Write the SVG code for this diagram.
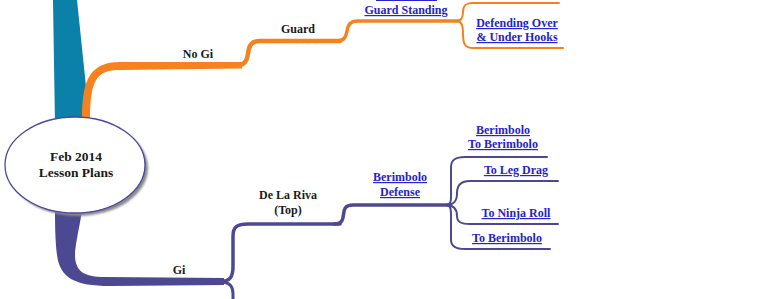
<svg xmlns="http://www.w3.org/2000/svg" width="768" height="299" viewBox="0 0 768 299">
<defs>
<filter id="blur" x="-10%" y="-10%" width="120%" height="120%"><feGaussianBlur stdDeviation="1.3"/></filter>
</defs>
<style>
text{font-family:"Liberation Serif","Times New Roman",serif;font-weight:bold;font-size:12px;text-anchor:middle;fill:#1a1a1a}
.lk{fill:#2424cc;text-decoration:underline}
.or{fill:none;stroke:#f5821f;stroke-linecap:round}
.pu{fill:none;stroke:#4d4892;stroke-linecap:round}
.ctr{font-size:13.5px}
</style>
<rect width="768" height="299" fill="#ffffff"/>
<g id="connectors">
  <path d="M53,0 L77,0 L90,125 L55,125 Z" fill="#0b80a8"/>
  <path d="M82,122 C82,86 86,62 120,62 L242,62 L242,68.5 L120,70 C96,70 90,80 90,122 Z" fill="#f5821f"/>
  <path class="or" stroke-width="4.5" d="M236,65.5 C256,65.5 240,41 260,41 L340,41"/>
  <path class="or" stroke-width="3.5" d="M336,41 C354,41 340,21 358,21 L458,21"/>
  <path class="or" stroke-width="2" d="M456,21 C462,21 463,17 463,12 C463,6 465,3 472,3 L559,3"/>
  <path class="or" stroke-width="2" d="M456,21 C462,21 463,26 463,34 C463,44 465,48 473,48 L563,48"/>
  <path d="M55,205 L83,205 C80,225 75,245 75,255 C75,272 85,277 105,277 L224,278 L224,285 L110,286 C75,286 60,278 57,255 C55,240 55,220 55,205 Z" fill="#4d4892"/>
  <path class="pu" stroke-width="3.5" d="M220,281.5 C231,281.5 233,276 233,266 L233,236 C233,227 237,224 248,224 L340,224"/>
  <path class="pu" stroke-width="3" d="M220,282 C231,282 233,287 233,295 L233,302"/>
  <path class="pu" stroke-width="3.5" d="M334,224 C351,224 336,205 353,205 L450,205"/>
  <path class="pu" stroke-width="2" d="M446,205 C452,205 451,199 451,188 L451,167 C451,160 455,157 465,157 L547,157"/>
  <path class="pu" stroke-width="2" d="M446,205 C455,205 457,200 457,193 C457,185 461,181 470,181 L558,181"/>
  <path class="pu" stroke-width="2" d="M446,205 C455,205 457,210 457,216 C457,222 461,224 470,224 L558,224"/>
  <path class="pu" stroke-width="2" d="M446,205 C452,205 451,212 451,224 L451,240 C451,246 455,249 465,249 L550,249"/>
  <line x1="376" y1="0.5" x2="437" y2="0.5" stroke="#2424cc" stroke-width="1"/>
</g>
<g id="center">
  <ellipse cx="78" cy="168" rx="70" ry="48" fill="#8a8a8a" filter="url(#blur)"/>
  <ellipse cx="75" cy="165" rx="70" ry="48" fill="#ffffff" stroke="#4a47a0" stroke-width="1.3"/>
  <text class="ctr" x="76" y="161">Feb 2014</text>
  <text class="ctr" x="76" y="177">Lesson Plans</text>
</g>
<g id="node-nogi"><text x="198" y="58">No Gi</text></g>
<g id="node-guard"><text x="298" y="33">Guard</text></g>
<g id="node-guard-standing"><text class="lk" x="406" y="14">Guard Standing</text></g>
<g id="node-defending"><text class="lk" x="517" y="27">Defending Over</text><text class="lk" x="517" y="41">&amp; Under Hooks</text></g>
<g id="node-gi"><text x="179" y="274">Gi</text></g>
<g id="node-delariva"><text x="288" y="199">De La Riva</text><text x="288" y="214">(Top)</text></g>
<g id="node-berimbolo-defense"><text class="lk" x="400" y="181">Berimbolo</text><text class="lk" x="400" y="196">Defense</text></g>
<g id="node-berimbolo-to-berimbolo"><text class="lk" x="503" y="134">Berimbolo</text><text class="lk" x="503" y="148">To Berimbolo</text></g>
<g id="node-leg-drag"><text class="lk" x="516" y="174">To Leg Drag</text></g>
<g id="node-ninja-roll"><text class="lk" x="516" y="217">To Ninja Roll</text></g>
<g id="node-to-berimbolo"><text class="lk" x="507" y="242">To Berimbolo</text></g>
</svg>
